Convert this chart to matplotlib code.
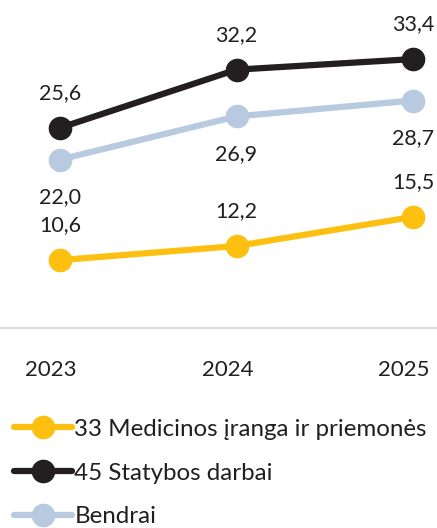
import matplotlib.pyplot as plt
from matplotlib.transforms import ScaledTranslation

plt.rcParams['font.family'] = ['Lato', 'DejaVu Sans']

years = [2023, 2024, 2025]
med = [10.6, 12.2, 15.5]
stat = [25.6, 32.2, 33.4]
bendrai = [22.0, 26.9, 28.7]
labels = ['33 Medicinos įranga ir priemonės', '45 Statybos darbai', 'Bendrai']

yellow = '#FDC010'
black = '#231F20'
blue = '#B7CADF'
text_col = '#231F20'

fig = plt.figure(figsize=(4.37, 5.28), dpi=100)
ax = fig.add_axes([0, 200 / 528, 1, 328 / 528])

series = [
    (med, yellow, labels[0], 25),
    (stat, black, labels[1], 25),
    (bendrai, blue, labels[2], -27),
]
handles = []
for vals, col, lab, off in series:
    h, = ax.plot(years, vals, color=col, lw=4.5, marker='o', markersize=16,
                 solid_capstyle='round', label=lab, zorder=3)
    handles.append(h)
    for x, v in zip(years, vals):
        ax.annotate(f'{v:.1f}'.replace('.', ','), (x, v), xytext=(0, off),
                    textcoords='offset points', ha='center', va='center',
                    fontsize=15.5, color=text_col)

ax.set_xlim(2022.66, 2025.136)
ax.set_ylim(2.9, 40.1)
for s in ['top', 'left', 'right']:
    ax.spines[s].set_visible(False)
ax.spines['bottom'].set_color('#d9d9d9')
ax.spines['bottom'].set_linewidth(1.5)
ax.set_yticks([])
ax.set_xticks(years)
ax.set_xticklabels([str(y) for y in years], fontsize=16, color=text_col)
ax.tick_params(axis='x', length=0, pad=23)
shift = ScaledTranslation(-9 / 100, 0, fig.dpi_scale_trans)
for t in ax.get_xticklabels():
    t.set_transform(t.get_transform() + shift)
ax.patch.set_alpha(0)

fig.legend(handles=handles, loc='center left', bbox_to_anchor=(14 / 437, 1 - 473 / 528),
           frameon=False, fontsize=17.4, handlelength=2.4, handletextpad=0.1,
           borderpad=0, borderaxespad=0, labelspacing=0.95, labelcolor=text_col)

fig.savefig('out.png', dpi=100)
